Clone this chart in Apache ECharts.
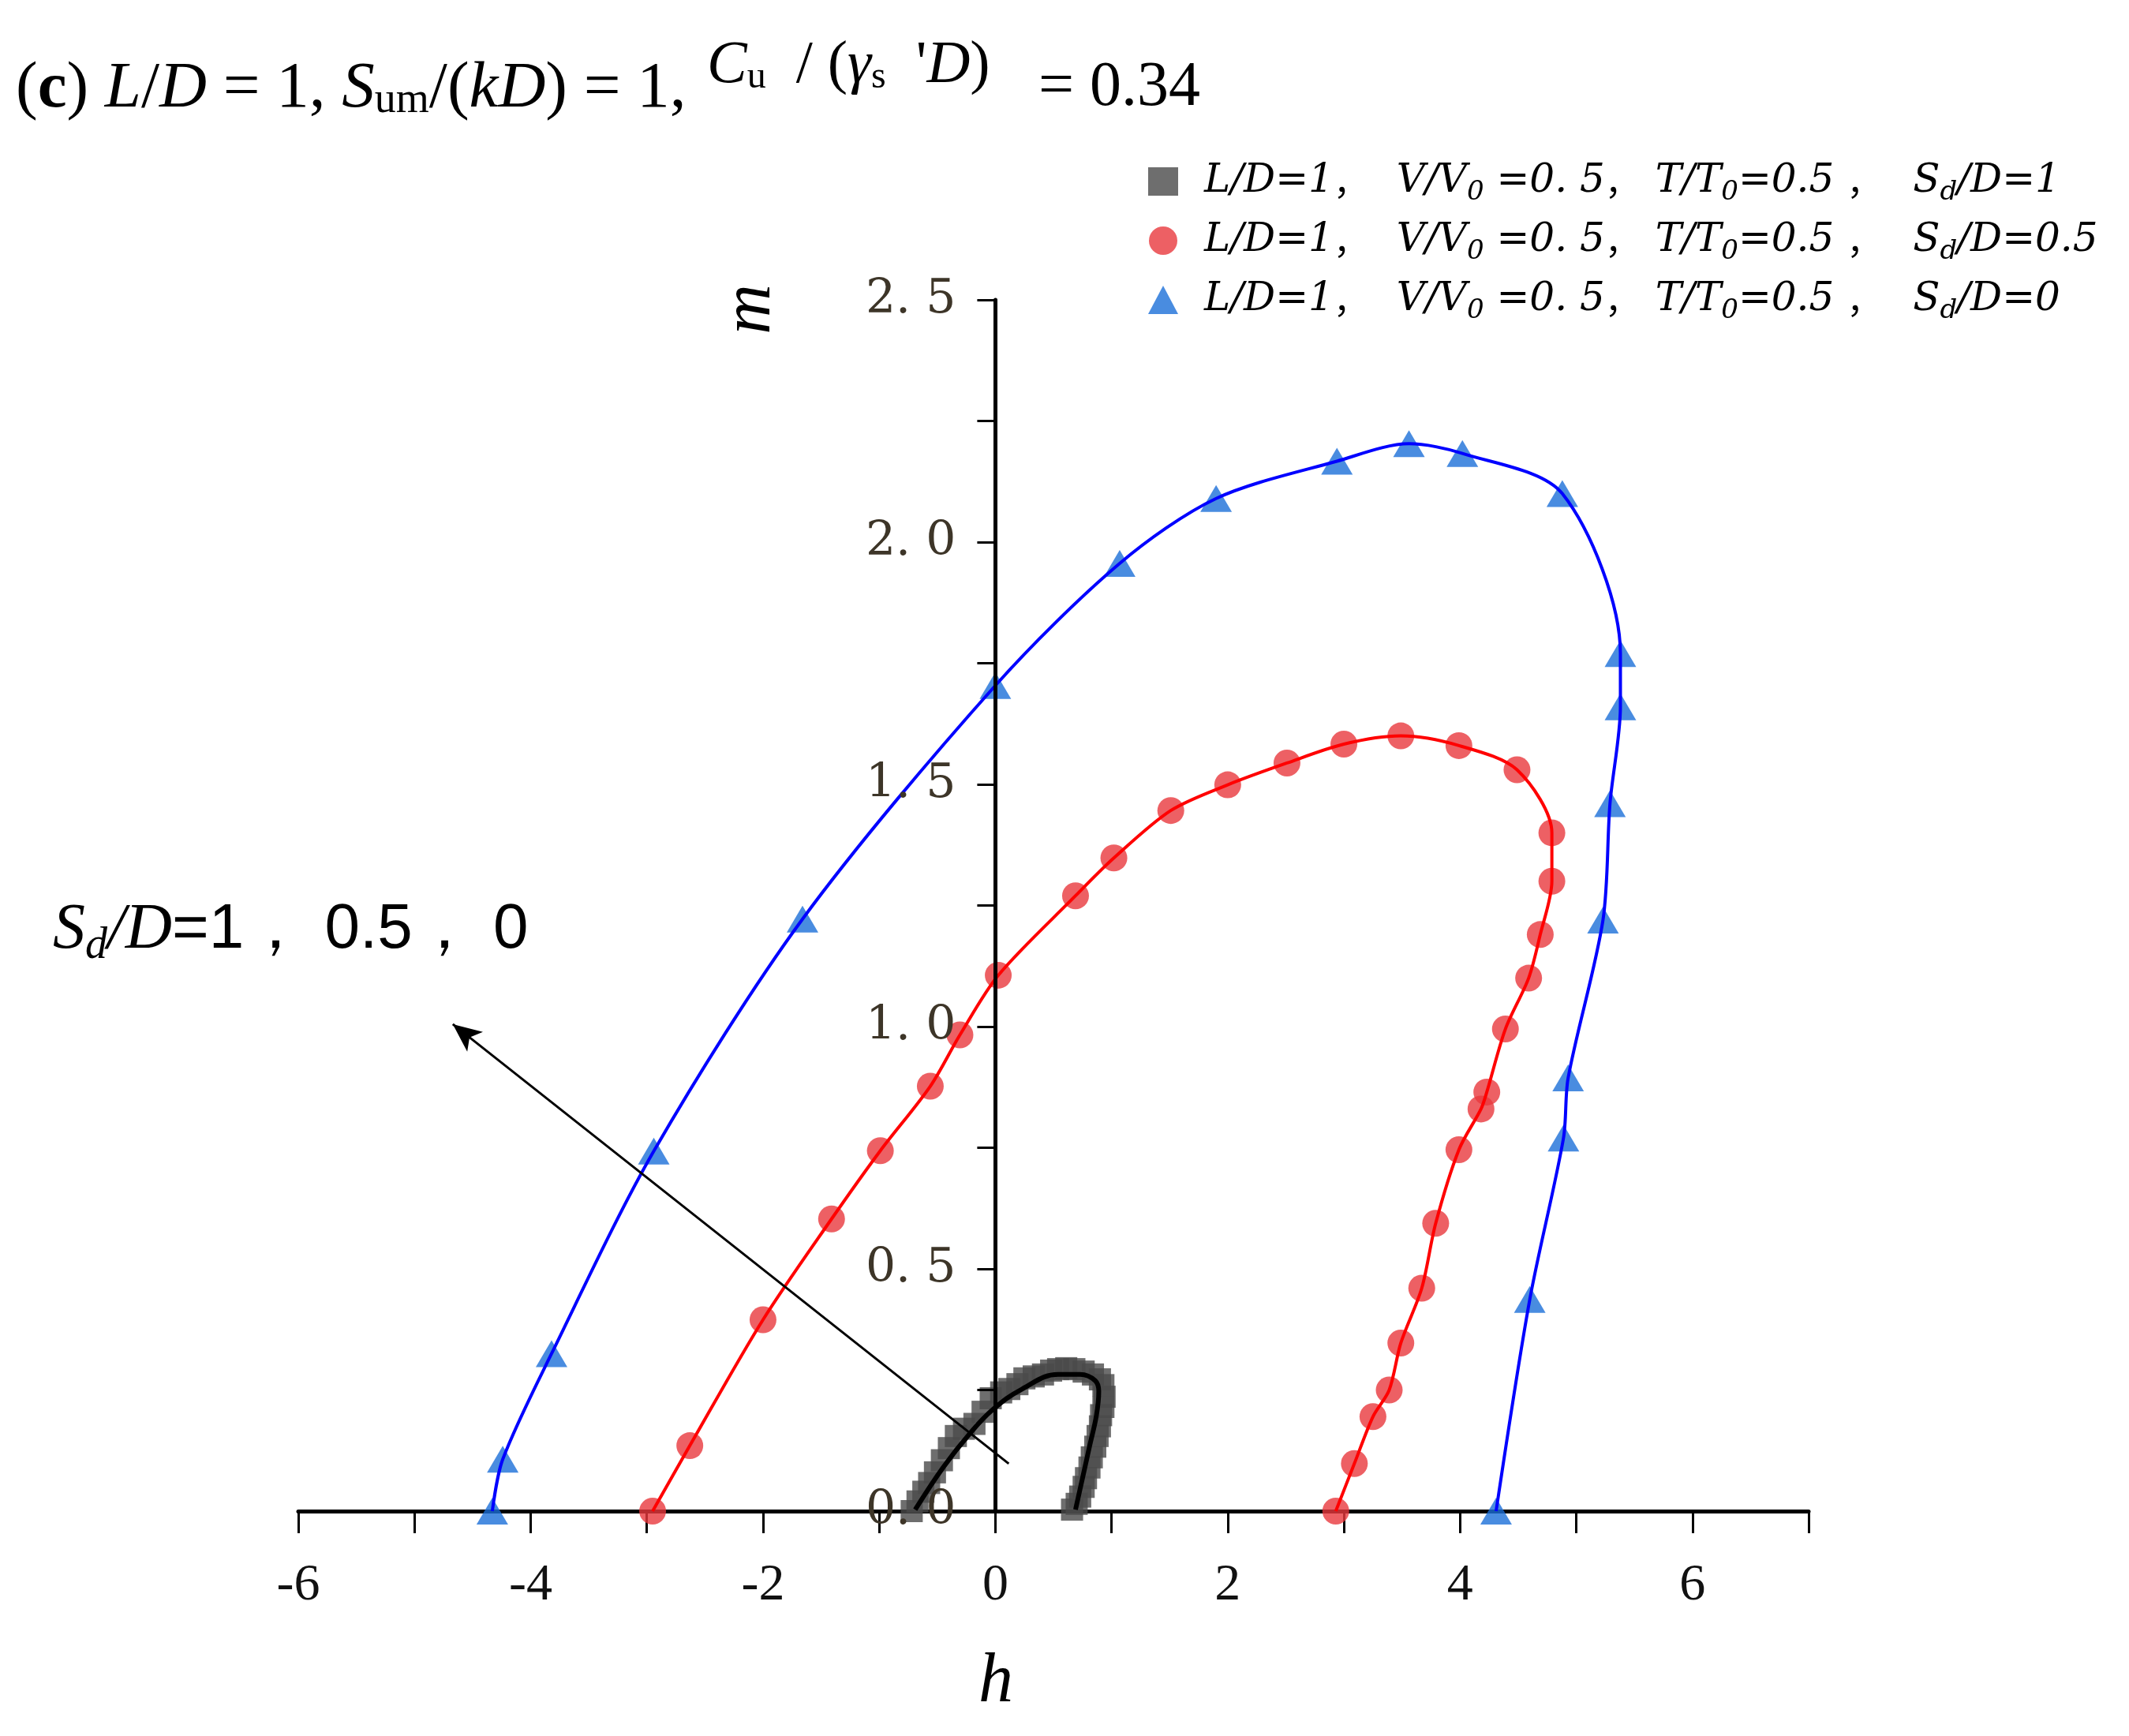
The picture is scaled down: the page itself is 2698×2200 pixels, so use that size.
<!DOCTYPE html>
<html>
<head>
<meta charset="utf-8">
<script src="https://cdn.jsdelivr.net/npm/echarts@6/dist/echarts.min.js"></script>
<style>
  html, body { margin: 0; padding: 0; background: #fff; }
  #chart { width: 2698px; height: 2200px; }
</style>
</head>
<body>
<div id="chart"></div>
<script>
// Sd/D = 1 (black squares, dense)
const blackH = [-0.72, -0.67, -0.62, -0.57, -0.52, -0.46, -0.4, -0.34, -0.27, -0.18, -0.11, -0.04, 0.05, 0.12, 0.19, 0.25, 0.33, 0.41, 0.48, 0.54, 0.61, 0.68, 0.76, 0.84, 0.9, 0.93, 0.94, 0.93, 0.91, 0.9, 0.88, 0.86, 0.83, 0.81, 0.78, 0.76, 0.73, 0.7, 0.66]
const blackM = [0.0, 0.02, 0.04, 0.058, 0.08, 0.105, 0.13, 0.155, 0.17, 0.18, 0.205, 0.233, 0.245, 0.252, 0.262, 0.274, 0.278, 0.282, 0.29, 0.293, 0.295, 0.293, 0.288, 0.282, 0.272, 0.26, 0.236, 0.215, 0.198, 0.175, 0.155, 0.133, 0.111, 0.09, 0.068, 0.05, 0.03, 0.015, 0.003]
// fitted curve through the black squares
const blackFitH = [-0.69, -0.45, -0.22, -0.02, 0.23, 0.54, 0.73, 0.86, 0.89, 0.87, 0.81, 0.75, 0.69]
const blackFitM = [0.003, 0.09, 0.16, 0.21, 0.252, 0.282, 0.282, 0.269, 0.247, 0.198, 0.133, 0.068, 0.003]

// Sd/D = 0.5 (red circles)
const redH = [-2.95, -2.63, -2.0, -1.41, -0.99, -0.56, -0.305, 0.025, 0.69, 1.02, 1.51, 2.0, 2.51, 3.0, 3.49, 3.99, 4.49, 4.79, 4.79, 4.69, 4.59, 4.39, 4.23, 4.18, 3.99, 3.79, 3.67, 3.49, 3.39, 3.25, 3.09, 2.93]
const redM = [0.0, 0.135, 0.395, 0.603, 0.744, 0.877, 0.983, 1.106, 1.27, 1.348, 1.446, 1.499, 1.544, 1.583, 1.6, 1.58, 1.53, 1.4, 1.3, 1.19, 1.1, 0.995, 0.865, 0.83, 0.746, 0.594, 0.46, 0.347, 0.25, 0.195, 0.098, 0.0]

// Sd/D = 0 (blue triangles)
const blueH = [-4.33, -4.24, -3.82, -2.94, -1.66, 0.0, 1.07, 1.9, 2.94, 3.56, 4.02, 4.88, 5.38, 5.38, 5.29, 5.23, 4.93, 4.89, 4.6, 4.31]
const blueM = [0.0, 0.107, 0.325, 0.743, 1.222, 1.704, 1.956, 2.09, 2.167, 2.203, 2.183, 2.1, 1.77, 1.66, 1.46, 1.22, 0.894, 0.77, 0.437, 0.0]

const hLabels = [-6, -4, -2, 0, 2, 4, 6]
const sdValues = ['1', '0.5', '0']
const legendNames = ['Sd/D=1', 'Sd/D=0.5', 'Sd/D=0']

// arrow "Sd/D=1, 0.5, 0"
const arrowFrom = [0.115, 0.098]
const arrowTo = [-4.67, 1.005]

function zip(xs, ys) {
  return xs.map((x, i) => [x, ys[i]])
}

const myChart = echarts.init(document.getElementById('chart'))

let option = {
  backgroundColor: '#fff',
  animation: false,
  grid: {
    left: 378,
    right: 406,
    top: 380,
    bottom: 285,
    containLabel: false
  },
  legend: {
    orient: 'vertical',
    left: 1450,
    top: 200,
    itemWidth: 38,
    itemHeight: 36,
    itemGap: 19,
    selectedMode: false,
    data: [
      {name: legendNames[0], icon: 'rect'},
      {name: legendNames[1], icon: 'circle'},
      {name: legendNames[2], icon: 'triangle'}
    ],
    formatter: function (name) {
      let sd = sdValues[legendNames.indexOf(name)]
      return '{f|L/D=1}{c1|，}{i|V/V}{s|0}{i| =0. 5}{c2|，}{i|T/T}{s|0}{i|=0.5 }{c3|，}{i|S}{s|d}{i|/D=' + sd + '}'
    },
    textStyle: {
      color: '#000',
      rich: {
        f: {fontFamily: 'DejaVu Serif', fontStyle: 'italic', fontSize: 50, color: '#000', padding: [0, 0, 0, 28]},
        i: {fontFamily: 'DejaVu Serif', fontStyle: 'italic', fontSize: 50, color: '#000'},
        s: {fontFamily: 'DejaVu Serif', fontStyle: 'italic', fontSize: 34, color: '#000', padding: [28, 0, 0, 0]},
        c1: {fontFamily: 'Noto Sans CJK SC', fontSize: 44, color: '#000', width: 80},
        c2: {fontFamily: 'Noto Sans CJK SC', fontSize: 44, color: '#000', width: 64},
        c3: {fontFamily: 'Noto Sans CJK SC', fontSize: 44, color: '#000', width: 84}
      }
    }
  },
  xAxis: {
    type: 'value',
    min: -6,
    max: 7,
    interval: 1,
    axisLine: {onZero: true, lineStyle: {color: '#000', width: 5}},
    axisTick: {show: true, inside: false, length: 28, lineStyle: {color: '#000', width: 3}},
    axisLabel: {
      margin: 62,
      fontFamily: 'Liberation Serif',
      fontSize: 66,
      color: '#111',
      formatter: function (v) {
        return hLabels.indexOf(v) >= 0 ? String(v) : ''
      }
    },
    splitLine: {show: false}
  },
  yAxis: {
    type: 'value',
    min: 0,
    max: 2.5,
    interval: 0.5,
    z: 4,
    // the m axis sits on h = 0
    offset: -883.4,
    axisLine: {show: true, onZero: false, lineStyle: {color: '#000', width: 5}},
    axisTick: {show: true, length: 23, lineStyle: {color: '#000', width: 3}},
    minorTick: {show: true, splitNumber: 2, length: 23, lineStyle: {color: '#000', width: 3}},
    axisLabel: {
      margin: 50,
      fontFamily: 'DejaVu Serif',
      fontSize: 60,
      color: '#3d3528',
      formatter: function (v) {
        return v.toFixed(1).replace('.', '. ')
      }
    },
    splitLine: {show: false}
  },
  graphic: [
    {
      // title
      type: 'text',
      left: 20,
      top: 72,
      style: {
        text: '{n|(}{b|c}{n|) }{i|L}{n|/}{i|D}{n| = 1, }{i|S}{u|um}{n|/(}{i|kD}{n|) = 1,}',
        rich: {
          n: {fontFamily: 'Liberation Serif', fontSize: 83, fill: '#000'},
          b: {fontFamily: 'Liberation Serif', fontWeight: 'bold', fontSize: 83, fill: '#000'},
          i: {fontFamily: 'Liberation Serif', fontStyle: 'italic', fontSize: 83, fill: '#000'},
          u: {fontFamily: 'Liberation Serif', fontSize: 54, fill: '#000', padding: [29, 0, 0, 0]}
        }
      }
    },
    {
      type: 'text',
      left: 896,
      top: 46,
      style: {
        text: '{i|C}{u|u}{n|  / (}{i|γ}{u|s}{n|  \'}{i|D}{n|)}',
        rich: {
          n: {fontFamily: 'Liberation Serif', fontSize: 76, fill: '#000'},
          i: {fontFamily: 'Liberation Serif', fontStyle: 'italic', fontSize: 76, fill: '#000'},
          u: {fontFamily: 'Liberation Serif', fontSize: 48, fill: '#000', padding: [28, 0, 0, 0]}
        }
      }
    },
    {
      type: 'text',
      left: 1316,
      top: 72,
      style: {
        text: '= 0.34',
        font: '80px "Liberation Serif"',
        fill: '#000'
      }
    },
    {
      // y axis name
      type: 'text',
      x: 952,
      y: 392,
      rotation: Math.PI / 2,
      style: {
        text: 'm',
        font: 'italic 88px "Liberation Serif"',
        fill: '#000',
        align: 'center',
        verticalAlign: 'middle'
      }
    },
    {
      // x axis name
      type: 'text',
      x: 1262,
      y: 2133,
      style: {
        text: 'h',
        font: 'italic 88px "Liberation Serif"',
        fill: '#000',
        align: 'center',
        verticalAlign: 'middle'
      }
    },
    {
      // arrow annotation
      type: 'text',
      left: 67,
      top: 1138,
      style: {
        text: '{i|S}{d|d}{i|/D}{n|=1， 0.5， 0}',
        rich: {
          i: {fontFamily: 'Liberation Serif', fontStyle: 'italic', fontSize: 82, fill: '#000'},
          d: {fontFamily: 'Liberation Serif', fontStyle: 'italic', fontSize: 56, fill: '#000', padding: [40, 0, 0, 0]},
          n: {fontFamily: 'Liberation Sans', fontSize: 80, fill: '#000'}
        }
      }
    }
  ],
  series: [
    {
      name: legendNames[0],
      type: 'scatter',
      data: zip(blackH, blackM),
      symbol: 'rect',
      symbolSize: 28,
      itemStyle: {color: '#4a4a4a'},
      z: 2
    },
    {
      name: legendNames[1],
      type: 'scatter',
      data: zip(redH, redM),
      symbol: 'circle',
      symbolSize: 34,
      itemStyle: {color: '#e8383d'},
      z: 2
    },
    {
      name: legendNames[2],
      type: 'scatter',
      data: zip(blueH, blueM),
      symbol: 'triangle',
      symbolSize: [40, 34],
      itemStyle: {color: '#1c6fd8'},
      z: 2
    },
    {
      name: 'fit-black',
      type: 'line',
      data: zip(blackFitH, blackFitM),
      smooth: 0.4,
      symbol: 'none',
      lineStyle: {color: '#000', width: 6},
      z: 3,
      markLine: {
        silent: true,
        symbol: ['none', 'arrow'],
        symbolSize: [24, 36],
        label: {show: false},
        lineStyle: {color: '#000', width: 3, type: 'solid'},
        data: [[{coord: arrowFrom}, {coord: arrowTo}]]
      }
    },
    {
      name: 'fit-red',
      type: 'line',
      data: zip(redH, redM),
      smooth: 0.3,
      symbol: 'none',
      lineStyle: {color: '#ff0000', width: 4},
      z: 3
    },
    {
      name: 'fit-blue',
      type: 'line',
      data: zip(blueH, blueM),
      smooth: 0.3,
      symbol: 'none',
      lineStyle: {color: '#0000ff', width: 4},
      z: 3
    }
  ]
}

myChart.setOption(option)
</script>
</body>
</html>
